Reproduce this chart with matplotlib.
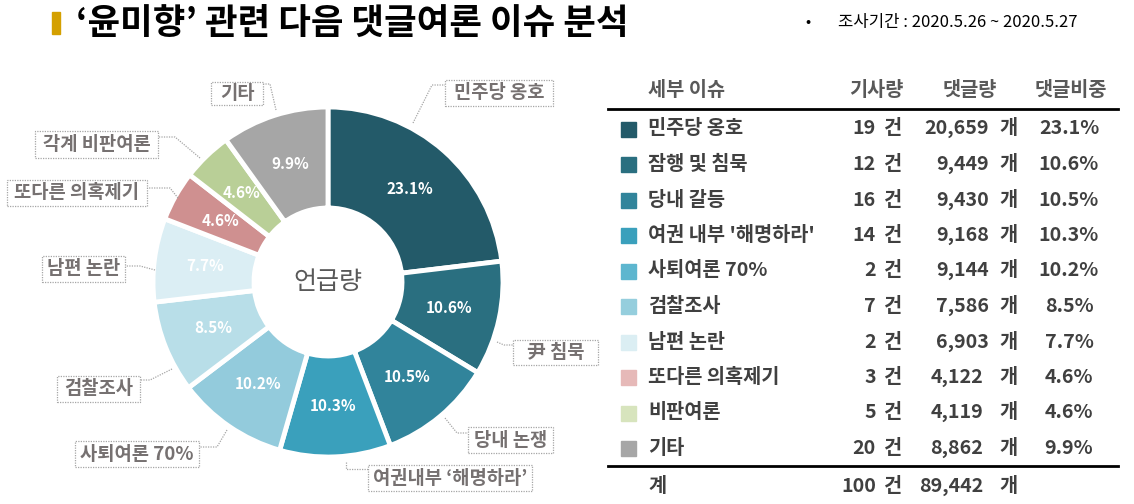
import matplotlib
matplotlib.use("Agg")
import matplotlib.pyplot as plt
from matplotlib.patches import Rectangle
import numpy as np

plt.rcParams['font.family'] = ['Noto Sans CJK KR', 'DejaVu Sans']

# ---------------- data ----------------
issues = ['민주당 옹호', '잠행 및 침묵', '당내 갈등', "여권 내부 '해명하라'", '사퇴여론 70%',
          '검찰조사', '남편 논란', '또다른 의혹제기', '비판여론', '기타']
chart_labels = ['민주당 옹호', '尹 침묵', '당내 논쟁', '여권내부 ‘해명하라’', '사퇴여론 70%',
                '검찰조사', '남편 논란', '또다른 의혹제기', '각계 비판여론', '기타']
articles = [19, 12, 16, 14, 2, 7, 2, 3, 5, 20]
comments = [20659, 9449, 9430, 9168, 9144, 7586, 6903, 4122, 4119, 8862]
shares = [23.1, 10.6, 10.5, 10.3, 10.2, 8.5, 7.7, 4.6, 4.6, 9.9]
total_articles = 100
total_comments = 89442
headers = ['세부 이슈', '기사량', '댓글량', '댓글비중']
title = '‘윤미향’ 관련 다음 댓글여론 이슈 분석'
period = '조사기간 : 2020.5.26 ~ 2020.5.27'
center_text = '언급량'

# ---------------- styles ----------------
slice_colors = ['#235a69', '#2a6f80', '#31849b', '#3aa0bc', '#93cbdc',
                '#b8dee8', '#dbeef4', '#cf9090', '#b9cf97', '#a6a6a6']
legend_colors = ['#235a69', '#2a6f80', '#31849b', '#3aa0bc', '#5db6cf',
                 '#95cedd', '#dbeef3', '#e6b9b8', '#d7e4bd', '#a6a6a6']

W, H = 1134, 504
fig = plt.figure(figsize=(W / 100, H / 100), dpi=100)
ax = fig.add_axes([0, 0, 1, 1])


def Y(y):
    return H - y


# ---------------- donut ----------------
cx, cy, R, r_in = 328, 282, 175, 74
wedges, _ = ax.pie(comments, startangle=90, counterclock=False, radius=R,
                   center=(cx, Y(cy)), colors=slice_colors,
                   wedgeprops=dict(width=R - r_in, edgecolor='white', linewidth=3.5))
for w, s in zip(wedges, shares):
    mid = np.deg2rad((w.theta1 + w.theta2) / 2)
    rr = 124
    ax.text(cx + rr * np.cos(mid), Y(cy) + rr * np.sin(mid), f'{s:.1f}%',
            color='white', fontsize=11, fontweight='bold', ha='center', va='center')

ax.text(cx, Y(cy), center_text, fontsize=18, color='#595959', ha='center', va='center')

# callout labels: (box x0, box y0, box x1, box y1) and leader polyline (top-down px)
callouts = [
    ((445, 80, 553, 106), [(413, 123), (432, 85), (445, 85)]),
    ((513, 340, 598, 365), [(497, 342), (504, 345), (513, 345)]),
    ((468, 427, 553, 453), [(445, 418), (457, 433), (468, 433)]),
    ((368, 465, 532, 491), [(346, 462), (346, 469), (368, 469)]),
    ((75, 441, 199, 467), [(227, 430), (217, 447), (199, 447)]),
    ((57, 376, 140, 402), [(172, 369), (150, 380), (140, 380)]),
    ((42, 256, 125, 282), [(155, 270), (140, 266), (125, 266)]),
    ((7, 180, 147, 206), [(178, 198), (170, 188), (147, 188)]),
    ((35, 131, 158, 158), [(200, 158), (175, 137), (158, 137)]),
    ((211, 82, 263, 105), [(276, 110), (270, 84), (263, 84)]),
]
for (box, pts), lab in zip(callouts, chart_labels):
    x0, y0, x1, y1 = box
    ax.add_patch(Rectangle((x0, Y(y1)), x1 - x0, y1 - y0, fill=True, facecolor='white',
                           edgecolor='#a6a6a6', linewidth=0.9, linestyle=(0, (1, 1)), zorder=3))
    ax.text((x0 + x1) / 2, Y((y0 + y1) / 2), lab, fontsize=13.5, fontweight='bold',
            color='#767171', ha='center', va='center', zorder=4)
    ax.plot([p[0] for p in pts], [Y(p[1]) for p in pts], color='#a6a6a6',
            linewidth=0.9, linestyle=(0, (1, 1)), zorder=2)

# ---------------- title ----------------
ax.add_patch(Rectangle((52, Y(34)), 8, 22, color='#d4a000'))
ax.text(76, Y(23), title, fontsize=25.5, fontweight='bold', color='black',
        ha='left', va='center')
ax.text(808, Y(23), '•', fontsize=11, color='black', ha='center', va='center')
ax.text(838, Y(23), period, fontsize=12, color='black', ha='left', va='center')

# ---------------- table ----------------
txt = '#404040'
fs = 14.2
hy = 90
ax.text(648, Y(hy), headers[0], fontsize=fs, fontweight='bold', color='#595959',
        ha='left', va='center')
ax.text(876, Y(hy), headers[1], fontsize=fs, fontweight='bold', color='#595959',
        ha='center', va='center')
ax.text(970, Y(hy), headers[2], fontsize=fs, fontweight='bold', color='#595959',
        ha='center', va='center')
ax.text(1071, Y(hy), headers[3], fontsize=fs, fontweight='bold', color='#595959',
        ha='center', va='center')
ax.plot([608, 1118], [Y(109), Y(109)], color='black', linewidth=2)

row0, step = 129, 35.5
num_right = [989, 989, 989, 989, 989, 989, 989, 983, 983, 983]
for i in range(len(issues)):
    y = row0 + i * step
    ax.add_patch(Rectangle((621, Y(y + 7.5)), 15, 15, color=legend_colors[i]))
    ax.text(648, Y(y), issues[i], fontsize=fs, fontweight='bold', color=txt,
            ha='left', va='center')
    ax.text(876, Y(y), f'{articles[i]}', fontsize=fs, fontweight='bold', color=txt,
            ha='right', va='center')
    ax.text(893, Y(y), '건', fontsize=fs, fontweight='bold', color=txt,
            ha='center', va='center')
    ax.text(num_right[i], Y(y), f'{comments[i]:,}', fontsize=fs, fontweight='bold',
            color=txt, ha='right', va='center')
    ax.text(1008, Y(y), '개', fontsize=fs, fontweight='bold', color=txt,
            ha='center', va='center')
    ax.text(1069, Y(y), f'{shares[i]:.1f}%', fontsize=fs, fontweight='bold', color=txt,
            ha='center', va='center')

ax.plot([608, 1118], [Y(466), Y(466)], color='black', linewidth=2)
ty = 487
ax.text(648, Y(ty), '계', fontsize=fs, fontweight='bold', color=txt, ha='left', va='center')
ax.text(876, Y(ty), f'{total_articles}', fontsize=fs, fontweight='bold', color=txt,
        ha='right', va='center')
ax.text(893, Y(ty), '건', fontsize=fs, fontweight='bold', color=txt, ha='center', va='center')
ax.text(983, Y(ty), f'{total_comments:,}', fontsize=fs, fontweight='bold', color=txt,
        ha='right', va='center')
ax.text(1008, Y(ty), '개', fontsize=fs, fontweight='bold', color=txt, ha='center', va='center')

ax.set_aspect('auto')
ax.set_xlim(0, W)
ax.set_ylim(0, H)
ax.axis('off')
fig.savefig('out.png', dpi=100, facecolor='white')
